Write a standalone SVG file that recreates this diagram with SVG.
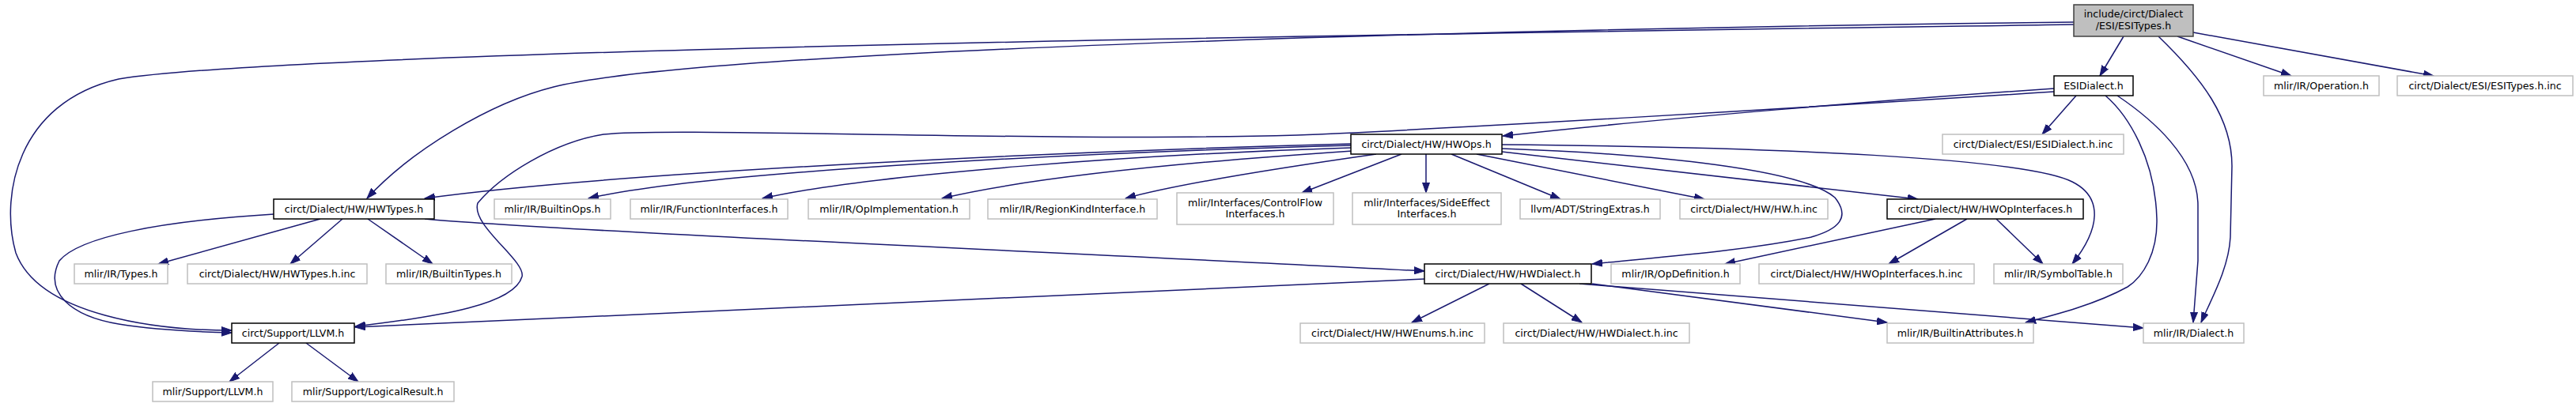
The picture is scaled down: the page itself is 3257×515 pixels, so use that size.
<svg xmlns="http://www.w3.org/2000/svg" width="3257" height="515" viewBox="0 0 3257 515">
<defs>
<style>
.n rect{stroke-width:1.5}
.doc rect{fill:#fff;stroke:#000}
.ext rect{fill:#fff;stroke:#bfbfbf}
.root rect{fill:#bfbfbf;stroke:#404040}
text{font-family:"DejaVu Sans","Liberation Sans",sans-serif;font-size:12.6px;fill:#000;text-anchor:middle}
.e path{fill:none;stroke:#191970;stroke-width:1.5;marker-end:url(#a)}
</style>
<marker id="a" markerUnits="userSpaceOnUse" markerWidth="14" markerHeight="10" refX="13" refY="5" orient="auto"><path d="M0,0.5 L13,5 L0,9.5 z" fill="#191970" stroke="#191970" stroke-width="1"/></marker>
</defs>
<rect width="3257" height="515" fill="#fff"/>
<g id="edges" class="e">
<path d="M2685,46 L2655,96"/>
<path d="M2753,46 L2897,96"/>
<path d="M2773,41 L3077,96"/>
<path d="M2729,46 C2785,100 2822,150 2822,210 L2820,300 C2818,340 2795,380 2783,408"/>
<path d="M2622,28 C2000,35 900,60 700,110 C620,130 520,190 464,251"/>
<path d="M2622,31 C2000,40 400,60 150,100 C20,130 0,250 20,320 C50,400 200,418 293,418"/>
<path d="M2597,112 C2400,125 2100,150 1900,172"/>
<path d="M2597,116 C2300,135 1800,165 1640,171 C1300,180 850,160 763,170 C700,180 633,222 604,257 C595,285 665,330 660,350 C650,385 560,400 449,413"/>
<path d="M2625,121 L2582,170"/>
<path d="M2662,121 C2690,145 2725,200 2727,277 C2728,320 2710,350 2690,363 C2650,385 2600,398 2561,408"/>
<path d="M2677,121 C2720,150 2779,200 2779,260 L2779,330 L2773,408"/>
<path d="M1708,182 C1400,190 800,215 537,251"/>
<path d="M1708,184 C1400,192 900,215 744,251"/>
<path d="M1708,187 C1450,195 1100,220 964,251"/>
<path d="M1710,191 C1500,205 1300,225 1191,251"/>
<path d="M1740,195 C1600,215 1480,235 1423,251"/>
<path d="M1772,195 L1646,244"/>
<path d="M1803,195 L1803,244"/>
<path d="M1835,195 L1973,252"/>
<path d="M1867,195 L2155,252"/>
<path d="M1899,192 L2425,252"/>
<path d="M1899,188 C2100,195 2280,215 2320,250 C2340,275 2325,290 2290,300 C2200,318 2100,325 2013,334"/>
<path d="M1899,183 C2250,186 2560,200 2620,230 C2660,250 2655,290 2620,334"/>
<path d="M537,277 C700,292 1400,322 1801,343"/>
<path d="M405,277 L200,334"/>
<path d="M433,277 L367,334"/>
<path d="M465,277 L547,334"/>
<path d="M346,271 C200,280 100,300 75,330 C55,370 90,400 150,410 C200,418 250,420 293,421"/>
<path d="M2447,277 L2181,334"/>
<path d="M2487,277 L2388,334"/>
<path d="M2524,277 L2583,334"/>
<path d="M1801,353 L449,414"/>
<path d="M1883,359 L1785,408"/>
<path d="M1923,359 L2000,408"/>
<path d="M2013,359 L2386,408"/>
<path d="M1997,359 L2710,415"/>
<path d="M353,434 L290,483"/>
<path d="M387,434 L453,483"/>
</g>
<g id="n0" class="n root"><rect x="2622" y="6" width="151" height="40"/><text x="2697.5" y="22">include/circt/Dialect</text><text x="2697.5" y="37">/ESI/ESITypes.h</text></g>
<g id="n1" class="n doc"><rect x="2597" y="96" width="100" height="25"/><text x="2647" y="112.5">ESIDialect.h</text></g>
<g id="n2" class="n ext"><rect x="2862" y="96" width="146" height="25"/><text x="2935" y="112.5">mlir/IR/Operation.h</text></g>
<g id="n3" class="n ext"><rect x="3031" y="96" width="222" height="25"/><text x="3142" y="112.5">circt/Dialect/ESI/ESITypes.h.inc</text></g>
<g id="n4" class="n doc"><rect x="1708" y="170" width="191" height="25"/><text x="1803.5" y="186.5">circt/Dialect/HW/HWOps.h</text></g>
<g id="n5" class="n ext"><rect x="2456" y="170" width="229" height="25"/><text x="2570.5" y="186.5">circt/Dialect/ESI/ESIDialect.h.inc</text></g>
<g id="n6" class="n doc"><rect x="346" y="252" width="203" height="25"/><text x="447.5" y="268.5">circt/Dialect/HW/HWTypes.h</text></g>
<g id="n7" class="n ext"><rect x="625" y="252" width="147" height="25"/><text x="698.5" y="268.5">mlir/IR/BuiltinOps.h</text></g>
<g id="n8" class="n ext"><rect x="797" y="252" width="199" height="25"/><text x="896.5" y="268.5">mlir/IR/FunctionInterfaces.h</text></g>
<g id="n9" class="n ext"><rect x="1022" y="252" width="204" height="25"/><text x="1124" y="268.5">mlir/IR/OpImplementation.h</text></g>
<g id="n10" class="n ext"><rect x="1249" y="252" width="214" height="25"/><text x="1356" y="268.5">mlir/IR/RegionKindInterface.h</text></g>
<g id="n11" class="n ext"><rect x="1488" y="244" width="198" height="40"/><text x="1587" y="261">mlir/Interfaces/ControlFlow</text><text x="1587" y="274.5">Interfaces.h</text></g>
<g id="n12" class="n ext"><rect x="1710" y="244" width="188" height="40"/><text x="1804" y="261">mlir/Interfaces/SideEffect</text><text x="1804" y="274.5">Interfaces.h</text></g>
<g id="n13" class="n ext"><rect x="1922" y="252" width="177" height="25"/><text x="2010.5" y="268.5">llvm/ADT/StringExtras.h</text></g>
<g id="n14" class="n ext"><rect x="2124" y="252" width="187" height="25"/><text x="2217.5" y="268.5">circt/Dialect/HW/HW.h.inc</text></g>
<g id="n15" class="n doc"><rect x="2386" y="252" width="248" height="25"/><text x="2510" y="268.5">circt/Dialect/HW/HWOpInterfaces.h</text></g>
<g id="n16" class="n ext"><rect x="94" y="334" width="118" height="25"/><text x="153" y="350.5">mlir/IR/Types.h</text></g>
<g id="n17" class="n ext"><rect x="237" y="334" width="227" height="25"/><text x="350.5" y="350.5">circt/Dialect/HW/HWTypes.h.inc</text></g>
<g id="n18" class="n ext"><rect x="488" y="334" width="159" height="25"/><text x="567.5" y="350.5">mlir/IR/BuiltinTypes.h</text></g>
<g id="n19" class="n doc"><rect x="1801" y="334" width="211" height="25"/><text x="1906.5" y="350.5">circt/Dialect/HW/HWDialect.h</text></g>
<g id="n20" class="n ext"><rect x="2037" y="334" width="163" height="25"/><text x="2118.5" y="350.5">mlir/IR/OpDefinition.h</text></g>
<g id="n21" class="n ext"><rect x="2224" y="334" width="272" height="25"/><text x="2360" y="350.5">circt/Dialect/HW/HWOpInterfaces.h.inc</text></g>
<g id="n22" class="n ext"><rect x="2521" y="334" width="163" height="25"/><text x="2602.5" y="350.5">mlir/IR/SymbolTable.h</text></g>
<g id="n23" class="n doc"><rect x="293" y="409" width="155" height="25"/><text x="370.5" y="425.5">circt/Support/LLVM.h</text></g>
<g id="n24" class="n ext"><rect x="1644" y="409" width="233" height="25"/><text x="1760.5" y="425.5">circt/Dialect/HW/HWEnums.h.inc</text></g>
<g id="n25" class="n ext"><rect x="1901" y="409" width="235" height="25"/><text x="2018.5" y="425.5">circt/Dialect/HW/HWDialect.h.inc</text></g>
<g id="n26" class="n ext"><rect x="2386" y="409" width="185" height="25"/><text x="2478.5" y="425.5">mlir/IR/BuiltinAttributes.h</text></g>
<g id="n27" class="n ext"><rect x="2710" y="409" width="127" height="25"/><text x="2773.5" y="425.5">mlir/IR/Dialect.h</text></g>
<g id="n28" class="n ext"><rect x="193" y="483" width="152" height="25"/><text x="269" y="499.5">mlir/Support/LLVM.h</text></g>
<g id="n29" class="n ext"><rect x="369" y="483" width="205" height="25"/><text x="471.5" y="499.5">mlir/Support/LogicalResult.h</text></g>
</svg>
